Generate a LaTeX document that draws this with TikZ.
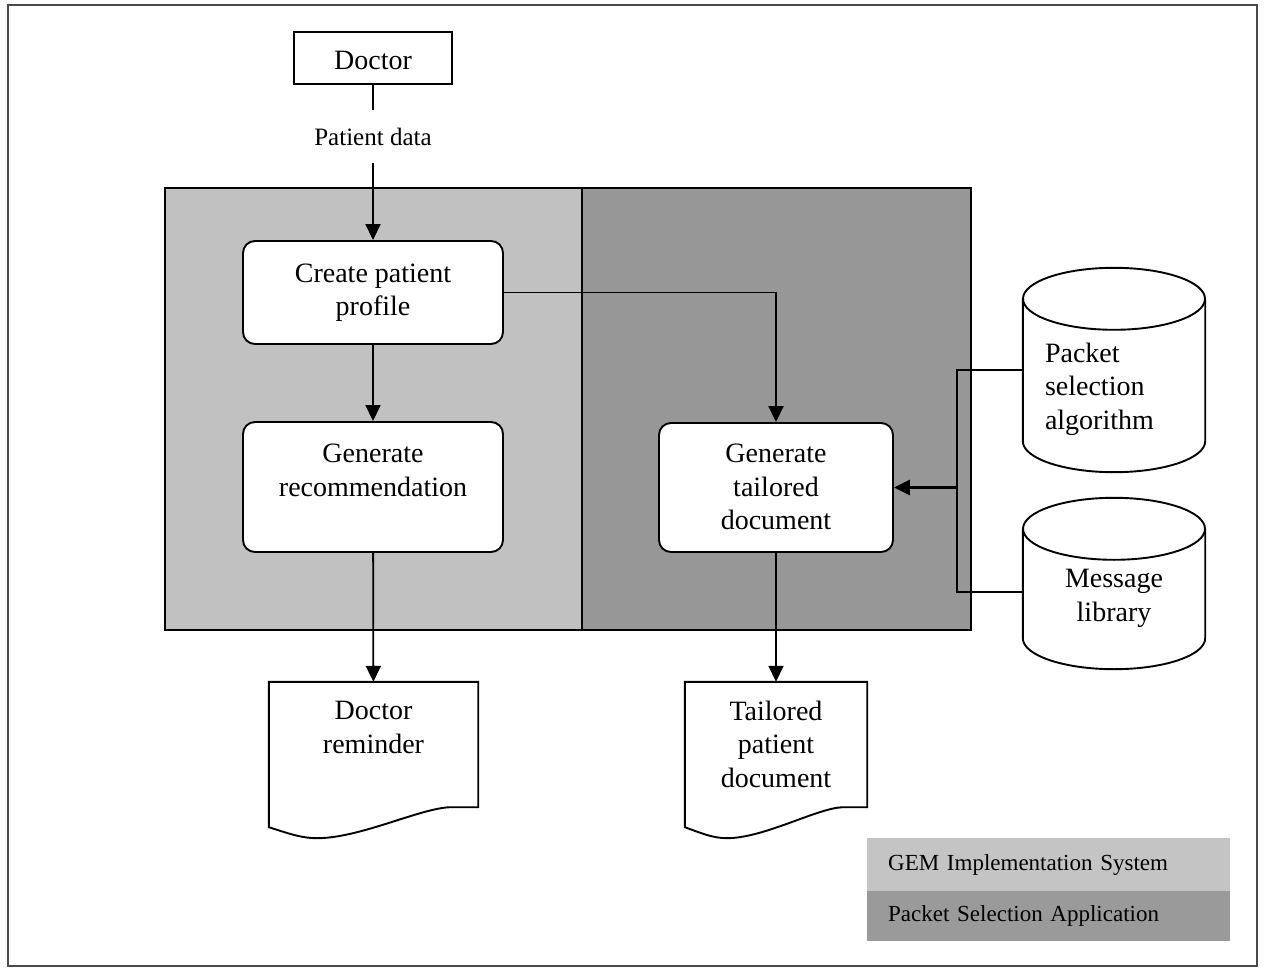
\documentclass[tikz,border=0pt]{standalone}
\usepackage{fontspec}
\setmainfont{Liberation Serif}
\usetikzlibrary{arrows.meta,calc}

\definecolor{panelLight}{HTML}{C1C1C1}
\definecolor{panelDark}{HTML}{979797}
\definecolor{legLight}{HTML}{C4C4C4}
\definecolor{legDark}{HTML}{9A9A9A}
\definecolor{frameGray}{HTML}{4A4A4A}

% move node text vertically without changing the node's size
\newcommand\shiftby[2]{\raisebox{#1}[\height][\depth]{#2}}
\newcommand\textlines[2][c]{\begin{tabular}{@{}#1@{}}#2\end{tabular}}

% flowchart "document" outline around a rectangular node
\newcommand\docoutline[1]{%
  \draw[shapeline] (#1.south west) -- (#1.north west) -- (#1.north east) -- (#1.south east)
    -- ($(#1.south west)!0.866!(#1.south east)$)
    .. controls ($(#1.south west)!0.723!(#1.south east)+(0,1)$)
           and ($(#1.south west)!0.435!(#1.south east)+(0,31)$)
    .. ($(#1.south west)!0.23!(#1.south east)+(0,31)$)
    .. controls ($(#1.south west)!0.15!(#1.south east)+(0,31)$)
           and ($(#1.south west)!0.077!(#1.south east)+(0,25)$)
    .. ($(#1.south west)+(0,20)$) -- cycle;}

% database cylinder: north/south of the node are the centres of the end ellipses
\newcommand\cyloutline[1]{%
  \draw[shapeline] (#1.north) ellipse [x radius=91pt, y radius=31pt];
  \draw[shapeline] (#1.north west) -- (#1.south west)
    .. controls ($(#1.south west)+(0,17.1)$) and ($(#1.south)+(-50.3,31)$) .. ($(#1.south)+(0,31)$)
    .. controls ($(#1.south)+(50.3,31)$) and ($(#1.south east)+(0,17.1)$) .. (#1.south east)
    -- (#1.north east);}

\tikzset{
  shapeline/.style={line width=1.9pt},
  proc/.style={draw, shapeline, fill=white, rounded corners=12pt, inner sep=0pt},
  plainbox/.style={draw, shapeline, fill=white, inner sep=0pt},
  docnode/.style={inner sep=0pt, minimum height=125pt},
  cylbody/.style={inner sep=0pt, minimum width=182pt},
  conn/.style={line width=1.8pt},
  arr/.style={conn, -{Triangle[length=16pt,width=15pt]}},
  bigarr/.style={line width=2.9pt, -{Triangle[length=16pt,width=15pt]}},
  legendbox/.style={anchor=north west, minimum width=363pt, inner xsep=21pt,
    text width=321pt, align=left, inner ysep=0pt, font=\fontsize{23}{27}\selectfont},
  panel/.style={draw, line width=1.6pt}
}

\begin{document}
\begin{tikzpicture}[x=1pt, y=-1pt, font=\fontsize{28}{33.5}\selectfont]
  \useasboundingbox (0,0) rectangle (1264,968);
  \draw[frameGray, line width=2.2pt] (8,5) rectangle (1257,966);

  % system panels
  \draw[panel, fill=panelLight] (165,188) rectangle (582,630);
  \draw[panel, fill=panelDark] (582,188) rectangle (971,630);

  % actors and process steps
  \node[plainbox, minimum width=158pt, minimum height=52pt] (doctor) at (373,58)
    {\shiftby{-2pt}{Doctor}};
  \node[inner xsep=2pt, inner ysep=18pt, font=\fontsize{25}{29}\selectfont] (pdata) at (373,136.5) {Patient data};

  \node[proc, minimum width=260pt, minimum height=103pt] (create) at (373,292.5)
    {\textlines{Create patient\\profile}};
  \node[proc, minimum width=260pt, minimum height=130pt] (genrec) at (373,487)
    {\shiftby{14pt}{\textlines{Generate\\recommendation}}};
  \node[proc, minimum width=234pt, minimum height=129pt] (gentail) at (776,487.5)
    {\shiftby{-2pt}{\textlines{Generate\\tailored\\document}}};

  % output documents
  \node[docnode, minimum width=209pt] (docrem) at (373.5,744.5)
    {\shiftby{14.5pt}{\textlines{Doctor\\reminder}}};
  \docoutline{docrem}
  \node[docnode, minimum width=182pt] (tailpat) at (776,744.5)
    {\shiftby{-2.3pt}{\textlines{Tailored\\patient\\document}}};
  \docoutline{tailpat}

  % data stores
  \node[cylbody, minimum height=142pt] (psa) at (1114,370)
    {\shiftby{-19pt}{\makebox[138pt][l]{\textlines[l]{Packet\\selection\\algorithm}}}};
  \cyloutline{psa}
  \node[cylbody, minimum height=109pt] (msglib) at (1114,583.5)
    {\shiftby{-14.5pt}{\textlines{Message\\library}}};
  \cyloutline{msglib}

  % flows
  \draw[conn] (doctor) -- (pdata);
  \draw[arr] (pdata) -- (create);
  \draw[arr] (create) -- (genrec);
  \draw[arr] (create.east) -| (gentail.north);
  \draw[arr] (genrec) -- (docrem);
  \draw[arr] (gentail) -- (tailpat);

  \coordinate (bus) at ($(psa.west)+(-66,0)$);
  \draw[conn] (psa.west) -- (bus) |- ($(msglib.west)+(0,8.5)$);
  \draw[bigarr] (bus |- gentail.east) -- (gentail.east);

  % legend
  \node[legendbox, fill=legLight, minimum height=53pt] (legsys) at (867,838) {GEM Implementation System};
  \node[legendbox, fill=legDark, minimum height=50pt] (legapp) at (867,891) {Packet Selection Application};
\end{tikzpicture}
\end{document}
